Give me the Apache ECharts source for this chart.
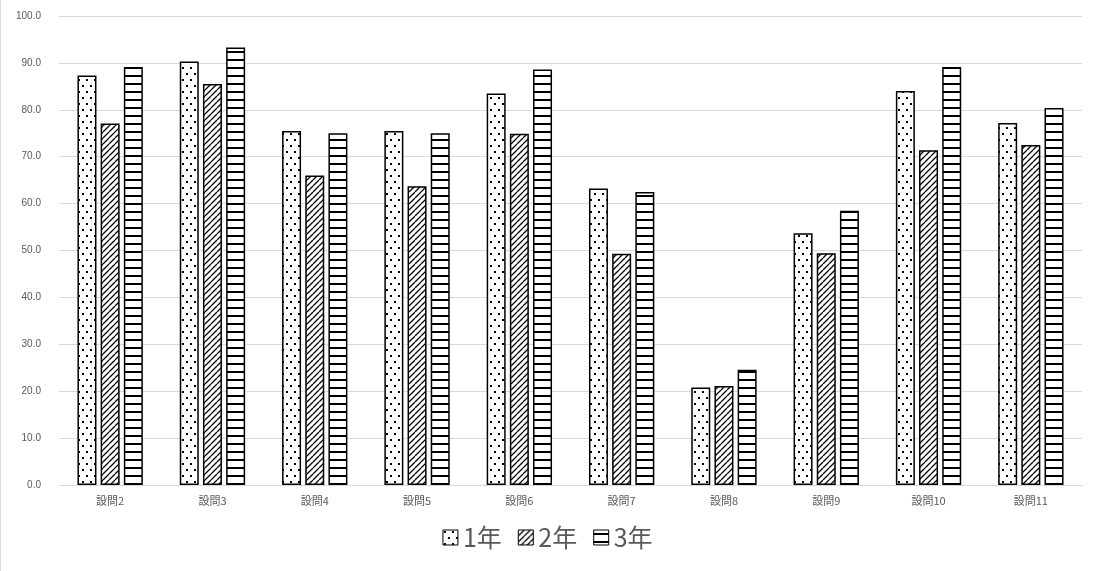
<!DOCTYPE html><html><head><meta charset="utf-8"><script src="https://cdn.jsdelivr.net/npm/echarts@6/dist/echarts.min.js"></script>
<style>body{margin:0}#c{width:1094px;height:571px;border-left:1px solid #d9d9d9;box-sizing:border-box}</style></head><body><div id="c"></div><script>
const categories=['設問2','設問3','設問4','設問5','設問6','設問7','設問8','設問9','設問10','設問11'];
const names=['1年','2年','3年'];
const y1=[87.3,90.3,75.5,75.5,83.5,63.2,20.8,53.7,84.0,77.2];
const y2=[77.1,85.5,66.0,63.7,74.9,49.3,21.1,49.4,71.4,72.5];
const y3=[89.1,93.3,75.0,75.0,88.6,62.5,24.6,58.5,89.1,80.4];
function pat(t){const c=document.createElement('canvas');const x=c.getContext('2d');
if(t==0){c.width=8;c.height=12;x.fillStyle='#fff';x.fillRect(0,0,8,12);x.fillStyle='#000';x.fillRect(1,1,2,2);x.fillRect(5,7,2,2);}
else if(t==1){c.width=6;c.height=6;x.fillStyle='#fff';x.fillRect(0,0,6,6);x.strokeStyle='#000';x.lineWidth=1.3;x.beginPath();for(let k=-6;k<=12;k+=6){x.moveTo(k,6);x.lineTo(k+6,0);}x.stroke();}
else{c.width=8;c.height=8;x.fillStyle='#fff';x.fillRect(0,0,8,8);x.fillStyle='#000';x.fillRect(0,3,8,2);}
return {image:c,repeat:'repeat'};}
const data=[y1,y2,y3];
const ch=echarts.init(document.getElementById('c'));
ch.setOption({animation:false,
grid:{left:58,right:12,top:16,bottom:86},
legend:{bottom:16,icon:'rect',itemWidth:15,itemHeight:15,itemGap:16,itemStyle:{borderWidth:1},textStyle:{fontSize:25,color:'#595959',fontFamily:'Noto Sans CJK JP'},data:names},
xAxis:{type:'category',data:categories,axisTick:{show:false},axisLine:{lineStyle:{color:'#d9d9d9'}},axisLabel:{color:'#595959',fontSize:11,fontFamily:'Noto Sans CJK JP',margin:10}},
yAxis:{type:'value',min:0,max:100,interval:10,axisLabel:{formatter:v=>v.toFixed(1),color:'#595959',fontSize:10,margin:18},splitLine:{lineStyle:{color:'#d9d9d9'}}},
series:data.map((d,i)=>({name:names[i],type:'bar',data:d,barWidth:19,barGap:'22%',itemStyle:{color:pat(i),borderColor:'#000',borderWidth:1.5}}))});
</script></body></html>
